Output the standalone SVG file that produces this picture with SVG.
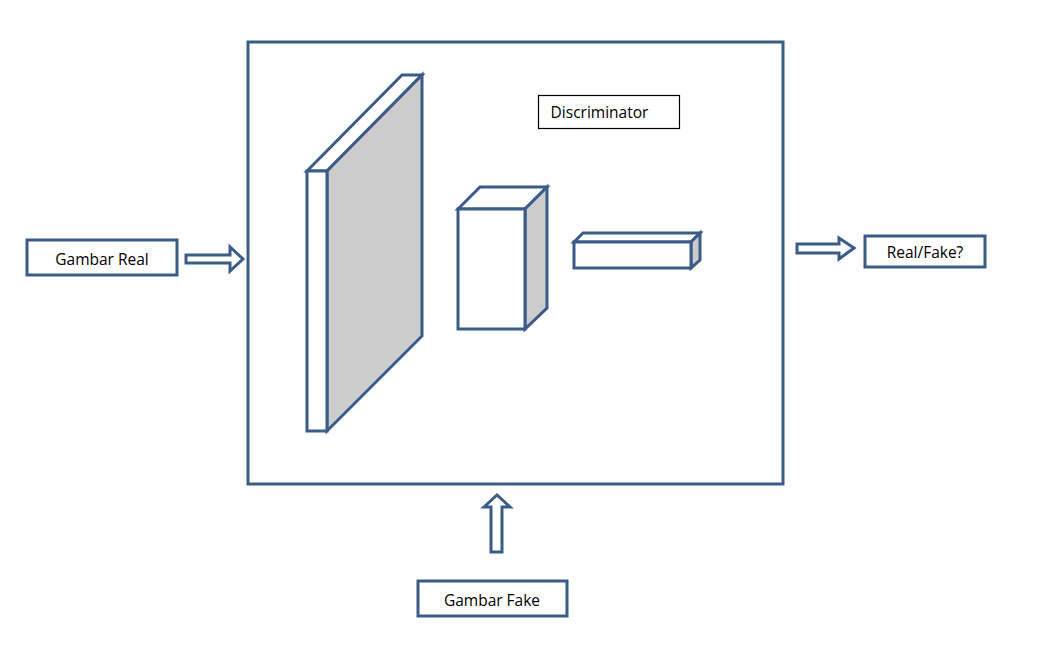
<svg xmlns="http://www.w3.org/2000/svg" width="1042" height="667" viewBox="0 0 1042 667">
<style>
.s{stroke:#3b5b88;stroke-width:3;stroke-linejoin:miter;}
.w{fill:#ffffff;}
.g{fill:#cccccc;}
.t{font-family:"Open Sans","Liberation Sans",sans-serif;font-size:15.5px;fill:#000;text-anchor:middle;dominant-baseline:central;}
</style>
<rect width="1042" height="667" fill="#ffffff"/>
<g id="discriminator">
<rect class="s w" x="248" y="42" width="535" height="442"/>
</g>
<g id="label-discriminator">
<rect x="538.5" y="95.5" width="141" height="33" fill="#ffffff" stroke="#000000" stroke-width="1.2"/>
<text class="t" x="599.5" y="112">Discriminator</text>
</g>
<g id="layer1">
<polygon class="s w" points="307,171 402,75 422,75 327,171"/>
<polygon class="s g" points="327,171 422,75 422,336 327,431"/>
<rect class="s w" x="307" y="171" width="20" height="260"/>
</g>
<g id="layer2">
<polygon class="s w" points="458,209 480,187 547,187 525,209"/>
<polygon class="s g" points="525,209 547,187 547,308 525,329"/>
<rect class="s w" x="458" y="209" width="67" height="120"/>
</g>
<g id="layer3">
<polygon class="s w" points="574,242 583,233 700,233 691,242"/>
<polygon class="s g" points="691,242 700,233 700,260 691,268"/>
<rect class="s w" x="574" y="242" width="117" height="26"/>
</g>
<g id="gambar-real">
<rect class="s w" x="27" y="240" width="150" height="35"/>
<text class="t" x="102" y="259">Gambar Real</text>
</g>
<g id="real-fake">
<rect class="s w" x="865" y="236" width="120" height="31"/>
<text class="t" x="925" y="252">Real/Fake?</text>
</g>
<g id="gambar-fake">
<rect class="s w" x="418" y="581" width="149" height="35"/>
<text class="t" x="492" y="600">Gambar Fake</text>
</g>
<g id="connectors">
<polygon class="s w" points="186,255 230,255 230,247 243,259 230,271 230,263 186,263"/>
<polygon class="s w" points="797,244 839,244 839,238 854,248 839,259 839,253 797,253"/>
<polygon class="s w" points="491,552 491,507 484,507 497,495 510,507 502,507 502,552"/>
</g>
</svg>
